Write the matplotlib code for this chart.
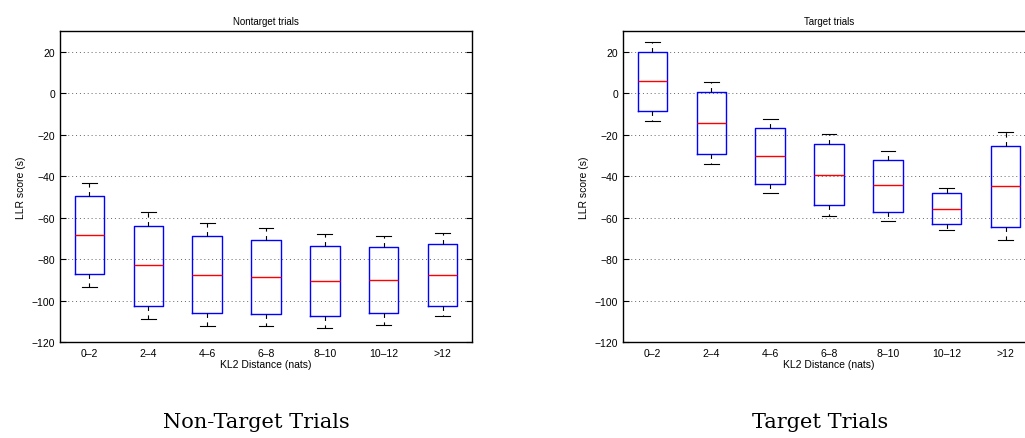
"""
Boxplots of LLR score vs KL2 distance, nontarget and target trials.
"""

import matplotlib.pyplot as plt

plt.rcParams["font.family"] = ["Liberation Sans", "DejaVu Sans"]

# ==========================================================
# Data
# ==========================================================

bins = ["0\u20132", "2\u20134", "4\u20136", "6\u20138", "8\u201310", "10\u201312", ">12"]

# nontarget trials
non_whislo = [-93.3, -108.9, -112.1, -112.4, -113.2, -111.6, -107.6]
non_q1 = [-87.0, -102.4, -106.1, -106.6, -107.4, -106.1, -102.4]
non_med = [-68.3, -83.1, -87.5, -88.8, -90.5, -90.1, -87.5]
non_q3 = [-49.5, -64.0, -68.8, -70.9, -73.6, -74.1, -72.7]
non_whishi = [-43.4, -57.2, -62.5, -65.1, -67.9, -68.8, -67.5]

# target trials
tar_whislo = [-13.3, -34.2, -48.1, -59.0, -61.4, -65.9, -70.7]
tar_q1 = [-8.5, -29.4, -43.6, -53.9, -57.2, -63.3, -64.3]
tar_med = [5.7, -14.4, -30.2, -39.4, -44.5, -55.8, -44.8]
tar_q3 = [19.8, 0.7, -16.8, -24.6, -32.1, -48.2, -25.4]
tar_whishi = [24.7, 5.5, -12.3, -19.6, -27.8, -45.6, -18.8]


def make_stats(whislo, q1, med, q3, whishi):
    stats = []
    for i in range(len(bins)):
        stats.append({
            "whislo": whislo[i],
            "q1": q1[i],
            "med": med[i],
            "q3": q3[i],
            "whishi": whishi[i],
            "fliers": [],
        })
    return stats


def draw_panel(ax, stats, title):
    ax.bxp(
        stats,
        widths=0.5,
        capwidths=0.25,
        showfliers=False,
        boxprops=dict(color="#0000ff", linewidth=1.0),
        medianprops=dict(color="#ff0000", linewidth=1.0),
        whiskerprops=dict(color="black", linewidth=0.8, linestyle=(0, (4, 4))),
        capprops=dict(color="black", linewidth=0.8),
    )
    ax.set_xlim(0.5, 7.5)
    ax.set_ylim(-120, 30)
    ax.set_yticks(range(-120, 21, 20))
    ax.set_xticks(range(1, 8))
    ax.set_xticklabels(bins)
    ax.yaxis.grid(True, linestyle=(0, (1, 3)), color="#666666", linewidth=0.7)
    ax.tick_params(axis="y", direction="in", length=4, right=True,
                   labelsize=7.5, width=0.8)
    ax.tick_params(axis="x", length=0, labelsize=7.5, pad=4)
    for sp in ax.spines.values():
        sp.set_linewidth(1.0)
    ax.set_title(title, fontsize=7, pad=5)
    ax.set_xlabel("KL2 Distance (nats)", fontsize=7.5, labelpad=1)
    ax.set_ylabel("LLR score (s)", fontsize=7.5, labelpad=4)


fig = plt.figure(figsize=(10.25, 4.39), dpi=100)

ax1 = fig.add_axes([60 / 1025, 96 / 439, 412 / 1025, 311 / 439])
ax2 = fig.add_axes([623 / 1025, 96 / 439, 412 / 1025, 311 / 439])

draw_panel(ax1, make_stats(non_whislo, non_q1, non_med, non_q3, non_whishi),
           "Nontarget trials")
draw_panel(ax2, make_stats(tar_whislo, tar_q1, tar_med, tar_q3, tar_whishi),
           "Target trials")

fig.text(256 / 1025, 1 - 423 / 439, "Non-Target Trials", ha="center",
         va="center", fontsize=15, family=["DejaVu Serif"])
fig.text(820 / 1025, 1 - 423 / 439, "Target Trials", ha="center",
         va="center", fontsize=15, family=["DejaVu Serif"])

fig.savefig("out.png", dpi=100)
plt.close(fig)
